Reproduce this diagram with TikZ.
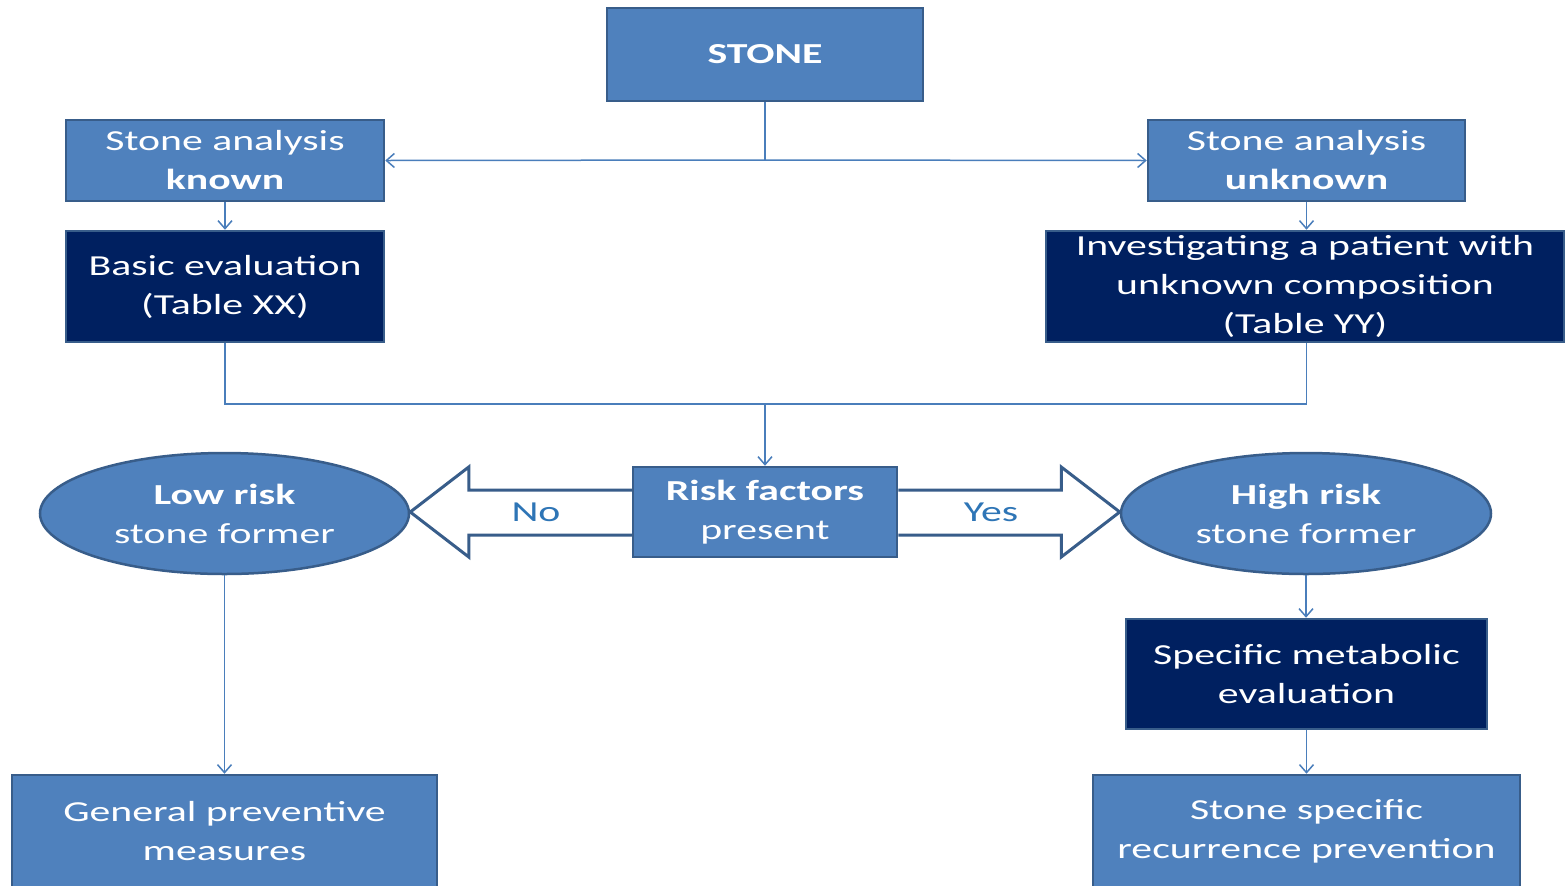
\documentclass[tikz,border=0pt]{standalone}
\usepackage{fontspec}
\setmainfont{Carlito}[FakeStretch=1.44]
\usetikzlibrary{arrows.meta,calc,shapes.geometric}
\definecolor{midblue}{HTML}{4F81BD}
\definecolor{edgeblue}{HTML}{385D8A}
\definecolor{navy}{HTML}{002060}
\definecolor{lineblue}{HTML}{4A7EBB}
\definecolor{labelblue}{HTML}{2E75B6}
\tikzset{
  base/.style={draw=edgeblue, line width=1.25pt, text=white, align=center,
    font=\fontsize{14.5}{19.5}\selectfont, inner sep=0pt},
  lightbox/.style={base, fill=midblue, rectangle},
  darkbox/.style={base, fill=navy, rectangle},
  oval/.style={base, fill=midblue, ellipse},
  conn/.style={draw=lineblue, line width=0.75pt, -{Straight Barb[length=4pt,width=7pt]}},
  plainline/.style={draw=lineblue, line width=0.75pt},
  blockarrow/.style={draw=edgeblue, fill=white, line width=1.5pt, line join=miter},
  choice/.style={text=labelblue, font=\fontsize{14.5}{19.5}\selectfont, inner sep=0pt}
}
\begin{document}
\begin{tikzpicture}[x=0.5pt,y=-0.5pt]
\useasboundingbox (0,0) rectangle (1565,885);
\fill[white] (0,0) rectangle (1565,885);
\clip (0,0) rectangle (1565,885);

\node[lightbox, minimum width=158pt, minimum height=46.5pt] (stone) at (765,54.5) {\bfseries STONE};
\node[lightbox, minimum width=159pt, minimum height=40.5pt] (known) at (225,160.5) {Stone analysis\\\bfseries known};
\node[lightbox, minimum width=158.5pt, minimum height=40.5pt] (unknown) at (1306.5,160.5) {Stone analysis\\\bfseries unknown};
\node[darkbox, minimum width=159pt, minimum height=55.5pt] (basic) at (225,286.5) {Basic evaluation\\(Table XX)};
\node[darkbox, minimum width=259pt, minimum height=55.5pt] (invest) at (1305,286.5) {Investigating a patient with\\unknown composition\\(Table YY)};
\node[lightbox, minimum width=132pt, minimum height=45pt] (risk) at (765,512) {\bfseries Risk factors\\present};
\node[oval, minimum width=184.5pt, minimum height=60.5pt] (low) at (224.5,513.5) {\bfseries Low risk\\stone former};
\node[oval, minimum width=185pt, minimum height=60.5pt] (high) at (1306,513.5) {\bfseries High risk\\stone former};
\node[darkbox, minimum width=180.5pt, minimum height=55pt] (specific) at (1306.5,674) {Specific metabolic\\evaluation};
\node[lightbox, minimum width=212.5pt, minimum height=56pt] (general) at (224.5,831) {General preventive\\measures};
\node[lightbox, minimum width=213.5pt, minimum height=56pt] (recur) at (1306.5,831) {Stone specific\\recurrence prevention};

% connectors
\coordinate (split) at (765,160);
\coordinate (merge) at (765,404);
\draw[plainline] (stone.south) -- (split);
\draw[conn] (split) -- (known.east);
\draw[conn] (split) -- (unknown.west);
\draw[conn] (known.south) -- (basic.north);
\draw[conn] (unknown.south) -- (unknown.south |- invest.north);
\draw[plainline] (basic.south) |- (merge);
\draw[plainline] (unknown.south |- invest.south) |- (merge);
\draw[conn] (merge) -- (risk.north);
\draw[conn] (low.south) -- (general.north);
\draw[conn] (high.south) -- (high.south |- specific.north);
\draw[conn] (specific.south) -- (specific.south |- recur.north);

% block arrows
\draw[blockarrow] ($(risk.west)+(0,-22)$) -- ++(-163,0) -- ++(0,-23) -- (low.east |- risk.west)
  -- ($(risk.west)+(-163,45)$) -- ++(0,-22) -- ($(risk.west)+(0,23)$);
\draw[blockarrow] ($(risk.east)+(0,-22)$) -- ++(163,0) -- ++(0,-23) -- (high.west |- risk.east)
  -- ($(risk.east)+(163,45)$) -- ++(0,-22) -- ($(risk.east)+(0,23)$);
\node[choice] (no) at (536,512) {No};
\node[choice] (yes) at (991,512) {Yes};
\end{tikzpicture}
\end{document}
